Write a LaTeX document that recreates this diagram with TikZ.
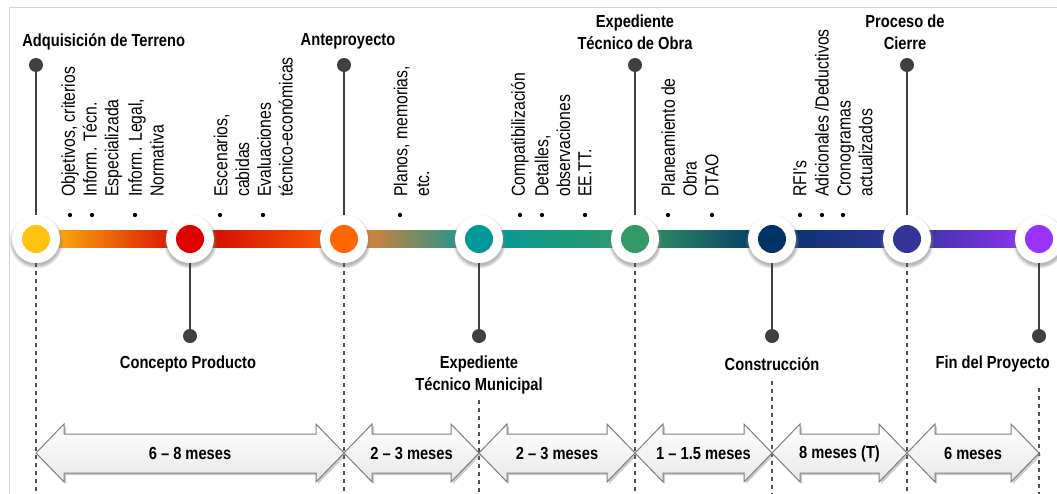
\documentclass[tikz,border=0pt]{standalone}
\usepackage{fontspec}
\setmainfont{Liberation Sans}[FakeStretch=0.84]
\usetikzlibrary{shadows,fadings,backgrounds,calc}
\definecolor{MsYellow}{HTML}{FFC20E}
\definecolor{MsRed}{HTML}{E00000}
\definecolor{MsOrange}{HTML}{FF6600}
\definecolor{MsTeal}{HTML}{009999}
\definecolor{MsGreen}{HTML}{339966}
\definecolor{MsNavy}{HTML}{003366}
\definecolor{MsIndigo}{HTML}{333399}
\definecolor{MsPurple}{HTML}{9933FF}
\definecolor{PinGray}{HTML}{404040}
\definecolor{GuideGray}{HTML}{505050}
\definecolor{FrameGray}{HTML}{D4D4D4}
\definecolor{SpanEdge}{HTML}{7F7F7F}

\newcommand{\spanarrow}[4]{%
  \path[spanbox] (#1,453) -- ({#1+28},424) -- ({#1+28},434) -- ({#2-28},434) -- ({#2-28},424)
    -- (#2,453) -- ({#2-28},482) -- ({#2-28},473) -- ({#1+28},473) -- ({#1+28},482) -- cycle;
  \node[spanlbl] (#3) at ({(#1+#2)/2},453.5) {#4};}

\begin{document}
\begin{tikzpicture}[x=0.75pt,y=-0.75pt,
    mile/.style={circle,fill=white,minimum size=36pt,inner sep=0pt,
      circular drop shadow={shadow scale=1.14,shadow xshift=0pt,shadow yshift=-1.5pt,opacity=0.55},
      path picture={\fill[#1] (path picture bounding box.center) circle (10.5pt);}},
    pin/.style={circle,fill=PinGray,minimum size=10.5pt,inner sep=0pt},
    stem/.style={PinGray,line width=1.5pt},
    guide/.style={draw=GuideGray,line width=0.9pt,dash pattern=on 3pt off 3pt},
    note/.style={rotate=90,anchor=west,align=left,inner sep=0pt,font=\fontsize{14.1}{16.3}\selectfont},
    title/.style={align=center,inner sep=0pt,font=\fontsize{13.1}{16.5}\selectfont\bfseries},
    spanbox/.style={draw=SpanEdge,line width=0.75pt,top color=white,bottom color=black!9,
      drop shadow={shadow xshift=1.5pt,shadow yshift=-1.5pt,opacity=0.4}},
    spanlbl/.style={inner sep=0pt,font=\fontsize{13.1}{16}\selectfont\bfseries}
  ]
  \useasboundingbox (0,0) rectangle (1057,493);
  \clip (0,0) rectangle (1057,493);
  \draw[FrameGray,line width=0.75pt] (9.5,7.5) rectangle (1080,520);
  \coordinate (base) at (0,495);

  \node[mile=MsYellow] (m1) at (36,239) {};
  \node[mile=MsRed] (m2) at (190,239) {};
  \node[mile=MsOrange] (m3) at (344,239) {};
  \node[mile=MsTeal] (m4) at (479,239) {};
  \node[mile=MsGreen] (m5) at (635,239) {};
  \node[mile=MsNavy] (m6) at (772,239) {};
  \node[mile=MsIndigo] (m7) at (907,239) {};
  \node[mile=MsPurple] (m8) at (1039,239) {};

  \begin{scope}[on background layer]
    \shade[left color=MsYellow,middle color=orange!90!red,right color=red!85!black] ($(m1)+(0,-8.5)$) rectangle ($(m2)+(0,8.5)$);
    \shade[left color=red!80!black,right color=MsOrange] ($(m2)+(0,-8.5)$) rectangle ($(m3)+(0,8.5)$);
    \shade[left color=MsOrange!85!white,middle color=MsOrange!45!MsTeal,right color=MsTeal] ($(m3)+(0,-8.5)$) rectangle ($(m4)+(0,8.5)$);
    \shade[left color=MsTeal,right color=MsGreen] ($(m4)+(0,-8.5)$) rectangle ($(m5)+(0,8.5)$);
    \shade[left color=MsGreen,middle color=MsGreen!50!MsNavy,right color=MsNavy] ($(m5)+(0,-8.5)$) rectangle ($(m6)+(0,8.5)$);
    \shade[left color=MsNavy!90!MsIndigo,right color=MsIndigo] ($(m6)+(0,-8.5)$) rectangle ($(m7)+(0,8.5)$);
    \shade[left color=MsIndigo,right color=MsPurple] ($(m7)+(0,-8.5)$) rectangle ($(m8)+(0,8.5)$);
  \end{scope}

  \node[pin] (p1) at (36,65) {};
  \node[pin] (p3) at (344,65) {};
  \node[pin] (p5) at (635,65) {};
  \node[pin] (p7) at (907,65) {};
  \node[pin] (p2) at (190,336) {};
  \node[pin] (p4) at (479,336) {};
  \node[pin] (p6) at (772,336) {};
  \node[pin] (p8) at (1039,336) {};
  \draw[stem] (p1) -- (m1); \draw[stem] (p3) -- (m3); \draw[stem] (p5) -- (m5); \draw[stem] (p7) -- (m7);
  \draw[stem] (m2) -- (p2); \draw[stem] (m4) -- (p4); \draw[stem] (m6) -- (p6); \draw[stem] (m8) -- (p8);

  \node[title,anchor=west] (tA) at (22,42) {Adquisición de Terreno};
  \node[title] (tB) at (348,41) {Anteproyecto};
  \node[title] (tC) at (635,32) {Expediente\\Técnico de Obra};
  \node[title] (tD) at (905,32) {Proceso de\\Cierre};
  \node[title] (bA) at (188,364) {Concepto Producto};
  \node[title] (bB) at (479,375) {Expediente\\Técnico Municipal};
  \node[title] (bC) at (772,364) {Construcción};
  \node[title,anchor=east] (bD) at (1050,364) {Fin del Proyecto};

  \node[note] (n1) at (70,197) {Objetivos, criterios};
  \node[note] (n2) at (102.5,197) {Inform. Técn.\\Especializada};
  \node[note] (n3) at (146,197) {Inform. Legal,\\Normativa};
  \node[note] (n4) at (231.5,197) {Escenarios,\\cabidas};
  \node[note] (n5) at (275,197) {Evaluaciones\\técnico-económicas};
  \node[note] (n6) at (411.5,197) {Planos, memorias,\\etc.};
  \node[note] (n7) at (520,197) {Compatibilización};
  \node[note] (n8) at (552.5,197) {Detalles,\\observaciones};
  \node[note] (n9) at (585,197) {EE.TT.};
  \node[note] (n10) at (679,197) {Planeamiento de\\Obra};
  \node[note] (n11) at (712,197) {DTAO};
  \node[note] (n12) at (800,197) {RFI's};
  \node[note] (n13) at (822,197) {Adicionales /Deductivos};
  \node[note] (n14) at (855,197) {Cronogramas\\actualizados};
  \foreach \bx in {70,92,135,220,263,400,520,542,585,668,712,800,822,843}
    \fill (\bx,215) circle (1.6pt);

  \draw[guide] (m1.south) -- (m1 |- base);
  \draw[guide] (m3.south) -- (m3 |- base);
  \draw[guide] (m5.south) -- (m5 |- base);
  \draw[guide] (m7.south) -- (m7 |- base);
  \draw[guide] ($(bB.south)+(0,6)$) -- (m4 |- base);
  \draw[guide] ($(bC.south)+(0,10)$) -- (m6 |- base);
  \draw[guide] (m8 |- 0,388) -- (m8 |- base);

  \spanarrow{36}{344}{s1}{6 – 8 meses}
  \spanarrow{344}{479}{s2}{2 – 3 meses}
  \spanarrow{479}{635}{s3}{2 – 3 meses}
  \spanarrow{635}{772}{s4}{1 – 1.5 meses}
  \spanarrow{772}{907}{s5}{8 meses (T)}
  \spanarrow{907}{1039}{s6}{6 meses}
\end{tikzpicture}
\end{document}
